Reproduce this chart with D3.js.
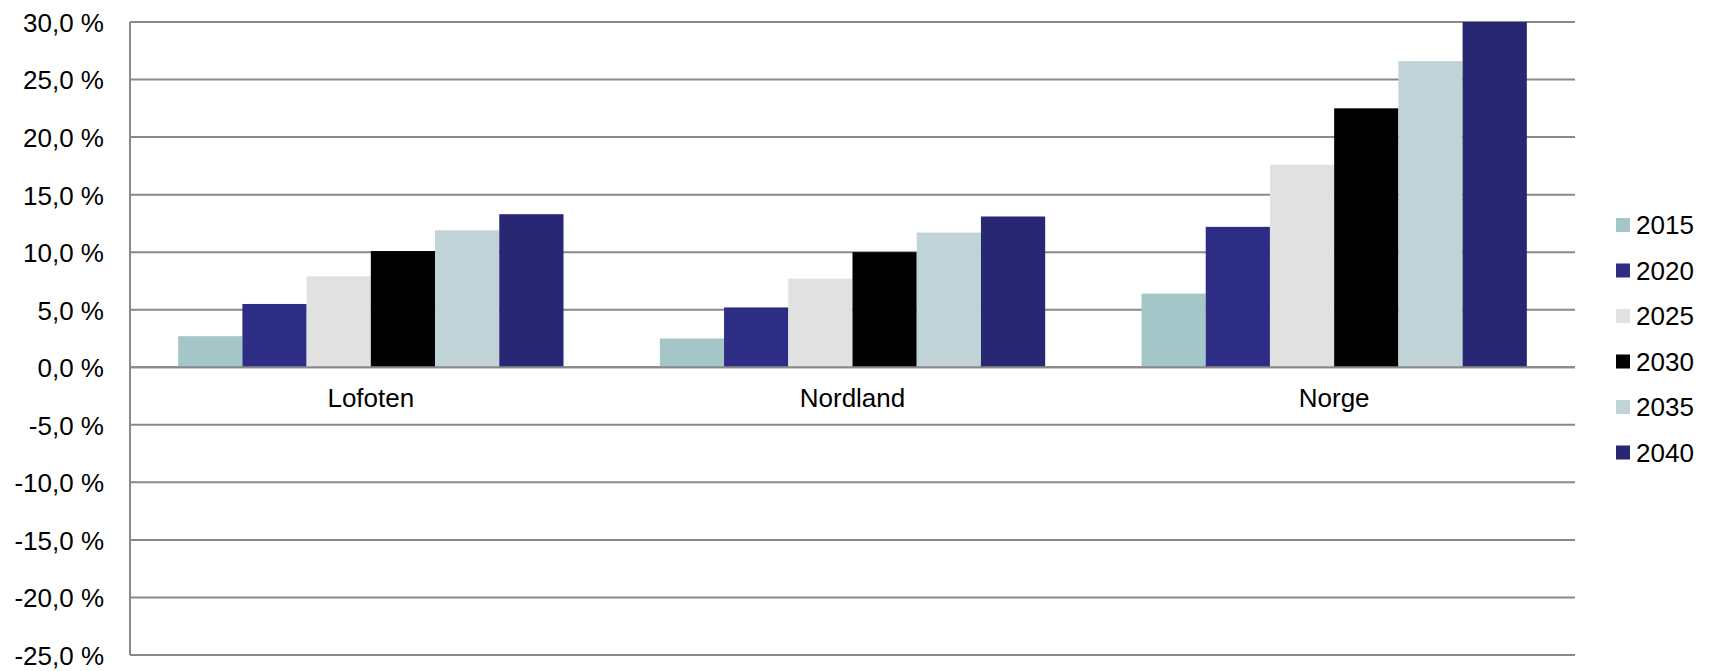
<!DOCTYPE html>
<html>
<head>
<meta charset="utf-8">
<script src="https://cdn.jsdelivr.net/npm/d3@7"></script>
<style>
  html, body { margin: 0; padding: 0; background: #fff; }
  svg { display: block; }
  text { font-family: "Liberation Sans", Arial, Helvetica, sans-serif; fill: #000; }
</style>
</head>
<body>
<svg id="chart" width="1711" height="671"></svg>
<script>
// Regions shown along the x axis
const categories = ["Lofoten", "Nordland", "Norge"];
// Projection years (one bar per year in every region)
const years = ["2015", "2020", "2025", "2030", "2035", "2040"];
// Growth in percent, one array per year, ordered as the regions above
const v2015 = [2.7, 2.5, 6.4];
const v2020 = [5.5, 5.2, 12.2];
const v2025 = [7.9, 7.7, 17.6];
const v2030 = [10.1, 10.0, 22.5];
const v2035 = [11.9, 11.7, 26.6];
const v2040 = [13.3, 13.1, 30.0];
// Y axis ticks
const yTicks = [30, 25, 20, 15, 10, 5, 0, -5, -10, -15, -20, -25];
const colors = ["#a5c6c8", "#2e2d85", "#e1e1e1", "#000000", "#c0d3d7", "#272774"];

const seriesValues = [v2015, v2020, v2025, v2030, v2035, v2040];

const svg = d3.select("#chart");
const plotLeft = 130, plotRight = 1575, plotTop = 22, plotBottom = 655;
const fontSize = "26px";

const y = d3.scaleLinear().domain([-25, 30]).range([plotBottom, plotTop]);
const x0 = d3.scaleBand().domain(categories).range([plotLeft, plotRight]).padding(0);
// six bars per region, with a gap of 1.5 bar widths between groups
const barW = x0.bandwidth() / 7.5;
const x1 = d3.scaleBand().domain(years).range([0.75 * barW, 0.75 * barW + 6 * barW]).padding(0);

const fmt = v => d3.format(".1f")(v).replace(".", ",").replace("\u2212", "-") + " %";

// horizontal gridlines
svg.append("g")
  .selectAll("line")
  .data(yTicks)
  .join("line")
  .attr("x1", plotLeft).attr("x2", plotRight)
  .attr("y1", d => y(d)).attr("y2", d => y(d))
  .attr("stroke", "#898989").attr("stroke-width", 2);

// y axis labels
const yAxis = d3.axisLeft(y).tickValues(yTicks).tickSize(0).tickPadding(26).tickFormat(fmt);
const gy = svg.append("g").attr("transform", `translate(${plotLeft},0)`).call(yAxis);
gy.select(".domain").remove();
gy.selectAll("text")
  .style("font-size", fontSize)
  .style("font-family", '"Liberation Sans", Arial, sans-serif')
  .attr("fill", "#000")
  .attr("dy", "0.36em");

// bars
const groups = svg.append("g")
  .selectAll("g")
  .data(categories)
  .join("g")
  .attr("transform", d => `translate(${x0(d)},0)`);

groups.selectAll("rect")
  .data((c, ci) => years.map((yr, si) => ({ yr, si, v: seriesValues[si][ci] })))
  .join("rect")
  .attr("x", d => x1(d.yr))
  .attr("width", x1.bandwidth())
  .attr("y", d => y(Math.max(0, d.v)))
  .attr("height", d => Math.abs(y(d.v) - y(0)))
  .attr("fill", d => colors[d.si]);

// zero line drawn above the bars
svg.append("line")
  .attr("x1", plotLeft).attr("x2", plotRight)
  .attr("y1", y(0)).attr("y2", y(0))
  .attr("stroke", "#898989").attr("stroke-width", 2);

// vertical axis line
svg.append("line")
  .attr("x1", plotLeft).attr("x2", plotLeft)
  .attr("y1", plotTop).attr("y2", plotBottom)
  .attr("stroke", "#898989").attr("stroke-width", 2);

// category labels
svg.append("g")
  .selectAll("text")
  .data(categories)
  .join("text")
  .attr("x", d => x0(d) + x0.bandwidth() / 2)
  .attr("y", 406.5)
  .attr("text-anchor", "middle")
  .style("font-size", fontSize)
  .text(d => d);

// legend
const legend = svg.append("g")
  .selectAll("g")
  .data(years)
  .join("g")
  .attr("transform", (d, i) => `translate(1616,${225 + i * 45.5})`);

legend.append("rect")
  .attr("x", 0).attr("y", -7)
  .attr("width", 14).attr("height", 14)
  .attr("fill", (d, i) => colors[i]);

legend.append("text")
  .attr("x", 20).attr("y", 9)
  .style("font-size", fontSize)
  .text(d => d);
</script>
</body>
</html>
